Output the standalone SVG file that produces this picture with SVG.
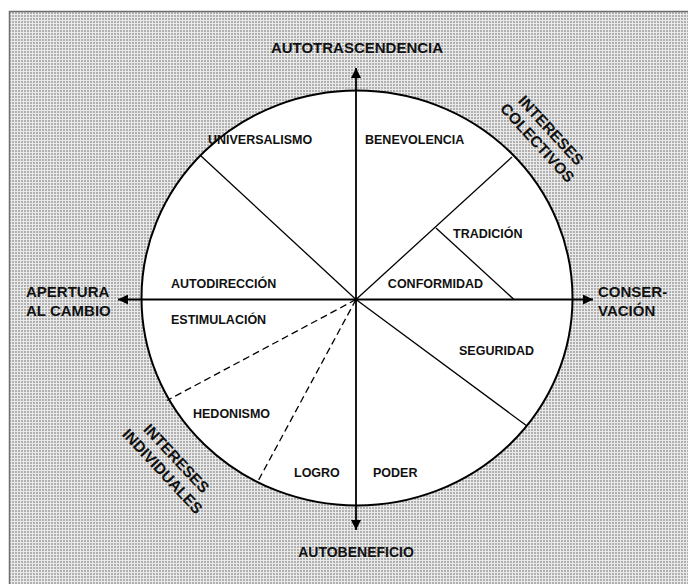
<svg xmlns="http://www.w3.org/2000/svg" width="688" height="584" viewBox="0 0 688 584">
<defs>
<pattern id="dots" x="0" y="0" width="3" height="3" patternUnits="userSpaceOnUse">
<rect width="3" height="3" fill="#eaeaea"/>
<rect width="2" height="2" fill="#b0b0b0"/>
</pattern>
<marker id="arr" viewBox="0 0 10 10" refX="10" refY="5" markerWidth="10" markerHeight="10" markerUnits="userSpaceOnUse" orient="auto">
<path d="M0,0 L10,5 L0,10 Z" fill="#000"/>
</marker>
<style>
.t{font-family:"Liberation Sans",Arial,sans-serif;font-weight:bold;fill:#111}
.in{font-size:12.5px}
.ax{font-size:15px}
.rot{font-size:15.5px}
.ln{stroke:#000;stroke-width:1.3;fill:none}
.ds{stroke:#000;stroke-width:1.3;fill:none;stroke-dasharray:7 4}
.axl{stroke:#000;stroke-width:1.8;fill:none}
</style>
</defs>
<rect width="688" height="584" fill="#fff"/>
<rect x="9" y="11" width="690" height="590" fill="url(#dots)"/>
<path d="M9.5,584 V11.5 H688" fill="none" stroke="#707070" stroke-width="1.5"/>
<g id="circle">
<ellipse cx="357" cy="298" rx="215.5" ry="207.5" fill="#fff" stroke="#000" stroke-width="2"/>
</g>
<g id="connectors">
<line class="ln" x1="356" y1="299.5" x2="201" y2="156"/>
<line class="ln" x1="356" y1="299.5" x2="512" y2="157"/>
<line class="ln" x1="436" y1="228" x2="514" y2="299.5"/>
<line class="ln" x1="356" y1="299.5" x2="527" y2="426"/>
<line class="ds" x1="356" y1="299.5" x2="167" y2="400.5"/>
<line class="ds" x1="356" y1="299.5" x2="257" y2="483"/>
<line class="axl" x1="356" y1="299.5" x2="356" y2="68" marker-end="url(#arr)"/>
<line class="axl" x1="356" y1="299.5" x2="356" y2="530" marker-end="url(#arr)"/>
<line class="axl" x1="356" y1="299.5" x2="118" y2="299.5" marker-end="url(#arr)"/>
<line class="axl" x1="356" y1="299.5" x2="593" y2="299.5" marker-end="url(#arr)"/>
<circle cx="356" cy="299.5" r="2" fill="#000"/>
</g>
<g id="universalismo"><text class="t in" x="208" y="143.5">UNIVERSALISMO</text></g>
<g id="benevolencia"><text class="t in" x="365" y="143.5">BENEVOLENCIA</text></g>
<g id="tradicion"><text class="t in" x="453" y="237.5">TRADICIÓN</text></g>
<g id="conformidad"><text class="t in" x="483" y="287.5" text-anchor="end">CONFORMIDAD</text></g>
<g id="autodireccion"><text class="t in" x="171" y="288">AUTODIRECCIÓN</text></g>
<g id="estimulacion"><text class="t in" x="171" y="324">ESTIMULACIÓN</text></g>
<g id="hedonismo"><text class="t in" x="193" y="418">HEDONISMO</text></g>
<g id="seguridad"><text class="t in" x="459" y="354.5">SEGURIDAD</text></g>
<g id="logro"><text class="t in" x="294" y="476.5">LOGRO</text></g>
<g id="poder"><text class="t in" x="373" y="476.5">PODER</text></g>
<g id="autotrascendencia"><text class="t ax" x="357" y="52.5" text-anchor="middle">AUTOTRASCENDENCIA</text></g>
<g id="autobeneficio"><text class="t ax" x="356" y="557" text-anchor="middle" style="font-size:14px">AUTOBENEFICIO</text></g>
<g id="apertura"><text class="t ax" x="26" y="297"><tspan x="26">APERTURA</tspan><tspan x="26" y="315.5">AL CAMBIO</tspan></text></g>
<g id="conservacion"><text class="t ax" x="598" y="297"><tspan x="598">CONSER-</tspan><tspan x="598" y="315.5">VACIÓN</tspan></text></g>
<g id="intereses-colectivos"><text class="t rot" transform="translate(547,134) rotate(47.5)" text-anchor="middle"><tspan x="0" y="0">INTERESES</tspan><tspan x="0" y="18.5">COLECTIVOS</tspan></text></g>
<g id="intereses-individuales"><text class="t rot" transform="translate(172.5,462) rotate(47)" text-anchor="middle"><tspan x="0" y="0">INTERESES</tspan><tspan x="0" y="19">INDIVIDUALES</tspan></text></g>
</svg>
